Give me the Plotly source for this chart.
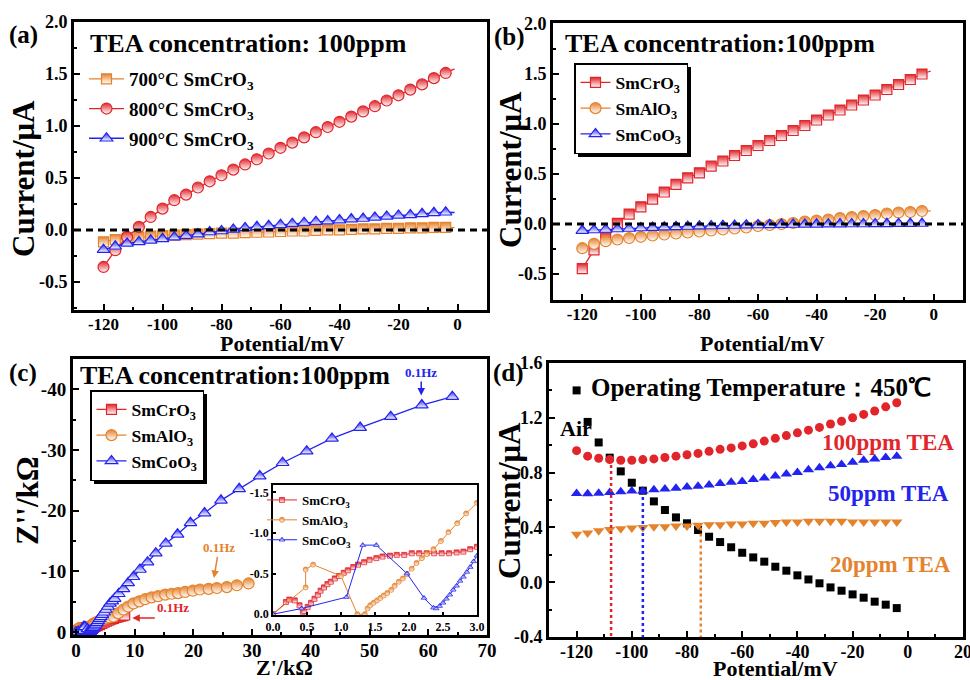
import plotly.graph_objects as go

FONT = "Liberation Serif"
ORANGE = "#E5822C"
RED = "#E1252B"
BLUE = "#2323F0"
W, H = 970, 680

# ---------------- data ----------------
potential = [-120, -116, -112, -108, -104, -100, -96, -92, -88, -84, -80, -76, -72, -68, -64,
             -60, -56, -52, -48, -44, -40, -36, -32, -28, -24, -20, -16, -12, -8, -4]
tail_potential = [-4, -1]

# (a) SmCrO3 calcined at different temperatures
a_700 = [-0.115, -0.092, -0.08, -0.07, -0.06, -0.055, -0.05, -0.045, -0.04, -0.035, -0.03, -0.03,
         -0.025, -0.022, -0.02, -0.015, -0.01, -0.01, -0.005, 0.0, 0.0, 0.005, 0.01, 0.01, 0.015,
         0.015, 0.02, 0.02, 0.025, 0.025]
a_800 = [-0.356, -0.195, -0.067, 0.029, 0.125, 0.205, 0.286, 0.34, 0.408, 0.468, 0.526, 0.58,
         0.63, 0.68, 0.735, 0.79, 0.84, 0.89, 0.94, 0.99, 1.04, 1.09, 1.14, 1.19, 1.245, 1.295,
         1.35, 1.40, 1.46, 1.51]
a_900 = [-0.19, -0.157, -0.13, -0.115, -0.10, -0.085, -0.07, -0.055, -0.04, -0.02, -0.01, 0.005,
         0.02, 0.03, 0.04, 0.05, 0.06, 0.07, 0.08, 0.085, 0.095, 0.105, 0.11, 0.12, 0.13, 0.14,
         0.145, 0.155, 0.165, 0.17]
a_700_tail = [0.025, 0.022]
a_800_tail = [1.51, 1.55]
a_900_tail = [0.17, 0.168]

# (b) different perovskites
b_cr = [-0.446, -0.258, -0.133, 0.007, 0.099, 0.172, 0.248, 0.32, 0.397, 0.462, 0.512, 0.578,
        0.63, 0.685, 0.735, 0.785, 0.835, 0.885, 0.935, 0.985, 1.04, 1.09, 1.14, 1.19, 1.24,
        1.29, 1.345, 1.395, 1.445, 1.50]
b_al = [-0.242, -0.198, -0.172, -0.155, -0.14, -0.128, -0.115, -0.105, -0.095, -0.085, -0.075,
        -0.065, -0.055, -0.045, -0.035, -0.02, -0.01, 0.0, 0.01, 0.025, 0.035, 0.045, 0.06,
        0.07, 0.08, 0.09, 0.105, 0.115, 0.12, 0.13]
b_co = [-0.066, -0.06, -0.055, -0.05, -0.045, -0.04, -0.036, -0.032, -0.028, -0.025, -0.022,
        -0.02, -0.017, -0.015, -0.012, -0.01, -0.008, -0.006, -0.005, -0.004, -0.003, -0.002,
        -0.001, 0.0, 0.0, 0.001, 0.002, 0.003, 0.004, 0.005]
b_cr_tail = [1.50, 1.53]
b_al_tail = [0.13, 0.13]
b_co_tail = [0.005, 0.005]

# (c) Nyquist plots (Z' in kOhm, Z'' in kOhm)
c_cr_x = [0, 0.19, 0.24, 0.32, 0.39, 0.44, 0.46, 0.51, 0.56, 0.61, 0.66, 0.70, 0.75, 0.80, 0.85,
          0.91, 0.97, 1.04, 1.10, 1.18, 1.25, 1.34, 1.42, 1.52, 1.61, 1.72, 1.82, 1.93, 2.04,
          2.15, 2.26, 2.37, 2.48, 2.59, 2.70, 2.80, 2.90, 3.0, 3.3, 3.6, 4.0, 4.4, 4.8, 5.2,
          5.6, 6.0, 6.4, 6.8, 7.2, 7.6, 8.0, 8.3]
c_cr_y = [0, -0.15, -0.18, -0.17, -0.11, -0.03, -0.04, -0.09, -0.14, -0.19, -0.24, -0.29, -0.33,
          -0.37, -0.40, -0.44, -0.47, -0.51, -0.54, -0.58, -0.61, -0.64, -0.67, -0.69, -0.71,
          -0.72, -0.73, -0.73, -0.75, -0.75, -0.75, -0.75, -0.75, -0.75, -0.76, -0.77, -0.80,
          -0.83, -0.95, -1.05, -1.2, -1.4, -1.6, -1.8, -1.95, -2.1, -2.25, -2.4, -2.5, -2.6,
          -2.7, -2.8]
c_al_x = [0, 0.48, 0.48, 0.59, 1.0, 1.24, 1.35, 1.39, 1.43, 1.48, 1.53, 1.58, 1.63, 1.68, 1.74,
          1.79, 1.85, 1.91, 1.97, 2.04, 2.11, 2.19, 2.26, 2.36, 2.47, 2.58, 2.71, 2.84, 3.0,
          3.3, 3.7, 4.1, 4.6, 5.1, 5.7, 6.4, 7.2, 8.1, 8.9, 9.8, 10.8, 11.8, 12.9, 14.0, 15.2,
          16.3, 17.4, 18.6, 19.9, 21.1, 22.6, 24.0, 25.7, 27.4, 29.4]
c_al_y = [0, -0.33, -0.55, -0.61, -0.47, 0, 0, -0.07, -0.11, -0.14, -0.17, -0.2, -0.23, -0.26,
          -0.3, -0.35, -0.4, -0.44, -0.49, -0.56, -0.63, -0.69, -0.74, -0.8, -0.9, -1.01, -1.12,
          -1.24, -1.37, -1.5, -1.7, -1.9, -2.1, -2.25, -2.4, -2.55, -3.1, -3.7, -4.2, -4.7,
          -5.05, -5.4, -5.7, -5.9, -6.15, -6.3, -6.4, -6.6, -6.8, -7.0, -7.1, -7.25, -7.4,
          -7.7, -8.0]
c_co_x = [0, 0.42, 1.08, 1.32, 1.52, 1.97, 2.22, 2.36, 2.4, 2.45, 2.5, 2.55, 2.6, 2.65, 2.7,
          2.75, 2.8, 2.85, 2.9, 2.95, 3.0, 3.2, 3.4, 3.6, 3.8, 4.0, 4.25, 4.5, 4.8, 5.1, 5.45,
          5.8, 6.2, 6.6, 7.3, 8.1, 8.9, 9.8, 10.9, 12.2, 13.6, 15.3, 17.3, 19.5, 21.9, 24.7,
          27.8, 31.3, 35.2, 39.3, 43.6, 48.4, 53.6, 58.9, 64.1]
c_co_y = [0, -0.07, -0.21, -0.85, -0.85, -0.5, -0.2, -0.08, -0.07, -0.1, -0.14, -0.19, -0.24,
          -0.3, -0.35, -0.41, -0.46, -0.52, -0.58, -0.65, -0.72, -0.95, -1.25, -1.55, -1.85,
          -2.15, -2.5, -2.85, -3.25, -3.7, -4.2, -4.7, -5.1, -5.5, -6.3, -7.1, -8.1, -9.1,
          -10.3, -11.5, -13.0, -14.6, -16.1, -18.0, -19.6, -21.7, -23.6, -25.7, -27.9, -29.8,
          -31.9, -33.7, -35.5, -37.4, -38.8]

# (d) SmCrO3 at 450 C
d_air = [1.40, 1.17, 1.02, 0.909, 0.809, 0.726, 0.668, 0.59, 0.527, 0.473, 0.43, 0.381, 0.332,
         0.293, 0.255, 0.215, 0.181, 0.15, 0.113, 0.084, 0.05, 0.02, -0.008, -0.038, -0.062,
         -0.089, -0.113, -0.142, -0.164, -0.189]
d_100 = [0.96, 0.92, 0.905, 0.895, 0.89, 0.89, 0.895, 0.90, 0.91, 0.92, 0.93, 0.94, 0.955, 0.97,
         0.98, 0.995, 1.01, 1.03, 1.05, 1.07, 1.09, 1.11, 1.13, 1.155, 1.175, 1.20, 1.225, 1.25,
         1.28, 1.31]
d_50 = [0.648, 0.645, 0.65, 0.655, 0.66, 0.665, 0.665, 0.675, 0.68, 0.685, 0.695, 0.70, 0.71,
        0.72, 0.73, 0.735, 0.75, 0.76, 0.775, 0.79, 0.80, 0.82, 0.835, 0.85, 0.86, 0.875, 0.89,
        0.90, 0.91, 0.92]
d_20 = [0.35, 0.36, 0.375, 0.385, 0.39, 0.395, 0.40, 0.405, 0.405, 0.41, 0.41, 0.415, 0.42, 0.42,
        0.425, 0.425, 0.43, 0.43, 0.435, 0.44, 0.44, 0.445, 0.445, 0.445, 0.445, 0.44, 0.44,
        0.44, 0.44, 0.44]
d_cross_x = [-107.5, -96, -75]
d_cross_top = [0.90, 0.665, 0.40]
d_axis_bottom = -0.4

# tick labels
ab_xticks = [-120, -100, -80, -60, -40, -20, 0]
ab_xtext = ["-120", "-100", "-80", "-60", "-40", "-20", "0"]
ab_yticks = [-0.5, 0.0, 0.5, 1.0, 1.5, 2.0]
ab_ytext = ["-0.5", "0.0", "0.5", "1.0", "1.5", "2.0"]
c_xticks = [0, 10, 20, 30, 40, 50, 60, 70]
c_xtext = ["0", "10", "20", "30", "40", "50", "60", "70"]
c_yticks = [0, -10, -20, -30, -40]
c_ytext = ["0", "-10", "-20", "-30", "-40"]
in_xticks = [0, 0.5, 1.0, 1.5, 2.0, 2.5, 3.0]
in_xtext = ["0.0", "0.5", "1.0", "1.5", "2.0", "2.5", "3.0"]
in_yticks = [0, -0.5, -1.0, -1.5]
in_ytext = ["0.0", "-0.5", "-1.0", "-1.5"]
d_xticks = [-120, -100, -80, -60, -40, -20, 0, 20]
d_xtext = ["-120", "-100", "-80", "-60", "-40", "-20", "0", "20"]
d_yticks = [-0.4, 0.0, 0.4, 0.8, 1.2, 1.6]
d_ytext = ["-0.4", "0.0", "0.4", "0.8", "1.2", "1.6"]


def px(x):
    return x / W


def py(y):
    return 1 - y / H


def half_marker(symbol, size, color, lw=1.2):
    return dict(symbol=symbol, size=size, color=color,
                gradient=dict(type="vertical", color="white"),
                line=dict(color=color, width=lw))


fig = go.Figure()

# ---------- panel (a) ----------
labels_a = ["700°C SmCrO<sub>3</sub>", "800°C SmCrO<sub>3</sub>", "900°C SmCrO<sub>3</sub>"]
for i, (vals, tail, col, sym, lab) in enumerate([
        (a_700, a_700_tail, ORANGE, "square", labels_a[0]),
        (a_800, a_800_tail, RED, "circle", labels_a[1]),
        (a_900, a_900_tail, BLUE, "triangle-up", labels_a[2])]):
    fig.add_trace(go.Scatter(x=tail_potential, y=tail, mode="lines", line=dict(color=col, width=1.3),
                             xaxis="x", yaxis="y", showlegend=False, hoverinfo="skip"))
    fig.add_trace(go.Scatter(x=potential, y=vals, mode="lines+markers", name=lab,
                             line=dict(color=col, width=1.3),
                             marker=half_marker(sym, 11 if sym != "square" else 10, col),
                             xaxis="x", yaxis="y", legend="legend", legendgroup="a%d" % i))

# ---------- panel (b) ----------
labels_b = ["SmCrO<sub>3</sub>", "SmAlO<sub>3</sub>", "SmCoO<sub>3</sub>"]
for i, (vals, tail, col, sym, lab) in enumerate([
        (b_cr, b_cr_tail, RED, "square", labels_b[0]),
        (b_al, b_al_tail, ORANGE, "circle", labels_b[1]),
        (b_co, b_co_tail, BLUE, "triangle-up", labels_b[2])]):
    fig.add_trace(go.Scatter(x=tail_potential, y=tail, mode="lines", line=dict(color=col, width=1.3),
                             xaxis="x2", yaxis="y2", showlegend=False, hoverinfo="skip"))
    fig.add_trace(go.Scatter(x=potential, y=vals, mode="lines+markers", name=lab,
                             line=dict(color=col, width=1.3),
                             marker=half_marker(sym, 11 if sym != "square" else 10, col),
                             xaxis="x2", yaxis="y2", legend="legend2", legendgroup="b%d" % i))

# ---------- panel (c) ----------
for i, (xs, ys, col, sym, lab) in enumerate([
        (c_cr_x, c_cr_y, RED, "square", labels_b[0]),
        (c_al_x, c_al_y, ORANGE, "circle", labels_b[1]),
        (c_co_x, c_co_y, BLUE, "triangle-up", labels_b[2])]):
    fig.add_trace(go.Scatter(x=xs, y=ys, mode="lines+markers", name=lab,
                             line=dict(color=col, width=1.3),
                             marker=half_marker(sym, 11 if sym != "square" else 10, col),
                             xaxis="x3", yaxis="y3", legend="legend3", legendgroup="c%d" % i))
# inset
for i, (xs, ys, col, sym, lab) in enumerate([
        (c_cr_x, c_cr_y, RED, "square", labels_b[0]),
        (c_al_x, c_al_y, ORANGE, "circle", labels_b[1]),
        (c_co_x, c_co_y, BLUE, "triangle-up", labels_b[2])]):
    fig.add_trace(go.Scatter(x=xs, y=ys, mode="lines+markers", name=lab,
                             line=dict(color=col, width=1),
                             marker=half_marker(sym, 5, col, lw=0.8),
                             xaxis="x4", yaxis="y4", legend="legend4", legendgroup="i%d" % i))

# ---------- panel (d) ----------
for vals, col, sym, size in [(d_air, "black", "square", 8), (d_100, RED, "circle", 9),
                             (d_50, BLUE, "triangle-up", 10), (d_20, ORANGE, "triangle-down", 10)]:
    fig.add_trace(go.Scatter(x=potential, y=vals, mode="markers",
                             marker=dict(symbol=sym, size=size, color=col),
                             xaxis="x5", yaxis="y5", showlegend=False))
for cx, ctop, col in zip(d_cross_x, d_cross_top, [RED, BLUE, ORANGE]):
    fig.add_trace(go.Scatter(x=[cx, cx], y=[ctop, d_axis_bottom], mode="lines",
                             line=dict(color=col, width=2.5, dash="dot"),
                             xaxis="x5", yaxis="y5", showlegend=False, hoverinfo="skip"))


# ---------- axes ----------
def axis(domain, rng, tv, tt, minor_dtick, anchor, size=17, ticklen=6, lw=3, standoff=0):
    return dict(domain=domain, range=rng, anchor=anchor, tickmode="array", tickvals=tv, ticktext=tt,
                ticks="inside", ticklen=ticklen, tickwidth=2, tickcolor="black",
                showline=True, linewidth=lw, linecolor="black", mirror=True,
                showgrid=False, zeroline=False, automargin=False,
                ticklabeloverflow="allow", ticklabelstandoff=standoff,
                tickfont=dict(family=FONT, size=size, color="black", weight="bold"),
                minor=dict(ticks="inside", ticklen=max(2, ticklen // 2), tickwidth=2,
                           tickcolor="black", tickmode="linear", tick0=0, dtick=minor_dtick))


layout_axes = dict(
    xaxis=axis([px(74), px(487)], [-130, 10], ab_xticks, ab_xtext, 10, "y", standoff=-3),
    yaxis=axis([py(310), py(22)], [-0.77, 2.0], ab_yticks, ab_ytext, 0.25, "x", size=18),
    xaxis2=axis([px(553), px(963)], [-130, 10], ab_xticks, ab_xtext, 10, "y2", standoff=-3),
    yaxis2=axis([py(300), py(23)], [-0.76, 2.01], ab_yticks, ab_ytext, 0.25, "x2", size=18),
    xaxis3=axis([px(73), px(487)], [-0.5, 70], c_xticks, c_xtext, 5, "y3", size=19, standoff=-4),
    yaxis3=axis([py(635), py(359)], [0.5, -45], c_yticks, c_ytext, 5, "x3", size=19),
    xaxis4=axis([px(273), px(477)], [0, 3], in_xticks, in_xtext, 0.25, "y4", size=12, ticklen=3, lw=1.5),
    yaxis4=axis([py(615), py(485)], [0.01, -1.59], in_yticks, in_ytext, 0.25, "x4", size=12, ticklen=3, lw=1.5),
    xaxis5=axis([px(549), px(963)], [-130, 20], d_xticks, d_xtext, 10, "y5", size=18, standoff=-4),
    yaxis5=axis([py(637), py(363)], [-0.4, 1.6], d_yticks, d_ytext, 0.2, "x5", size=18),
)
layout_axes["xaxis4"]["minor"]["ticks"] = ""
layout_axes["yaxis4"]["minor"]["ticks"] = ""


def leg(x, y, size, border, gap, itemwidth=30):
    return dict(x=px(x), y=py(y), xanchor="left", yanchor="top", xref="paper", yref="paper",
                bgcolor="white" if border else "rgba(0,0,0,0)",
                bordercolor="black", borderwidth=1.5 if border else 0,
                font=dict(family=FONT, size=size, color="black", weight="bold"),
                traceorder="grouped", tracegroupgap=gap, itemwidth=itemwidth)


# ---------- annotations ----------
ann = []


def text(x, y, s, size, color="black", xanchor="center", angle=0):
    ann.append(dict(x=px(x), y=py(y), xref="paper", yref="paper", text=s, showarrow=False,
                    xanchor=xanchor, yanchor="middle", textangle=angle,
                    font=dict(family=FONT, size=size, color=color, weight="bold")))


text(23, 35, "(a)", 25)
text(509, 37, "(b)", 25)
text(23, 373, "(c)", 25)
text(508, 373, "(d)", 25)
text(88, 43, "TEA concentration: 100ppm", 26, xanchor="left")
text(563, 43, "TEA concentration:100ppm", 26, xanchor="left")
text(78, 375, "TEA concentration:100ppm", 26, xanchor="left")
text(589, 387, "Operating Temperature：450℃", 25, xanchor="left")
text(282, 343, "Potential/mV", 22)
text(762, 343, "Potential/mV", 22)
text(284, 667, "Z'/kΩ", 22)
text(775, 668, "Potential/mV", 22)
text(24, 179, "Current/μA", 31, angle=-90)
text(510, 170, "Current/μA", 31, angle=-90)
text(27, 501, "Z''/kΩ", 31, angle=-90)
text(509, 501, "Current/μA", 31, angle=-90)
text(888, 442, "100ppm TEA", 23, RED)
text(888, 493, "50ppm TEA", 23, BLUE)
text(890, 564, "20ppm TEA", 23, ORANGE)
text(576, 428, "Air", 22)

# frequency markers
for x, y, ax, ay, col in [(58.8, -39.0, 0, -23, BLUE), (23.5, -8.9, 5, -30, ORANGE)]:
    ann.append(dict(x=x, y=y, xref="x3", yref="y3", text="0.1Hz", showarrow=True,
                    ax=ax, ay=ay, arrowhead=2, arrowsize=1, arrowwidth=1.5, arrowcolor=col,
                    font=dict(family=FONT, size=13, color=col, weight="bold")))
ann.append(dict(x=9.6, y=-2.3, xref="x3", yref="y3", text="", showarrow=True, ax=24, ay=0,
                arrowhead=2, arrowsize=1, arrowwidth=1.5, arrowcolor=RED))
text(173, 607, "0.1Hz", 13, RED)

# ---------- shapes ----------
shapes = []
for xr, yr in [("x domain", "y"), ("x2 domain", "y2")]:
    shapes.append(dict(type="line", xref=xr, yref=yr, x0=0, x1=1, y0=0, y1=0,
                       line=dict(color="black", width=3, dash="7px,5px")))
# legend shadows (offset copies of the legend boxes)
for (x0, y0, x1, y1) in [(574, 63, 687, 153), (90, 390, 203, 480)]:
    shapes.append(dict(type="rect", xref="paper", yref="paper", x0=px(x0 + 4), x1=px(x1 + 4),
                       y0=py(y1 + 4), y1=py(y0 + 4), fillcolor="black", line=dict(width=0),
                       layer="above"))

fig.update_layout(
    width=W, height=H, margin=dict(l=0, r=0, t=0, b=0, autoexpand=False),
    paper_bgcolor="white", plot_bgcolor="white",
    font=dict(family=FONT, size=16, color="black", weight="bold"),
    legend=leg(84, 60, 19, False, 2, itemwidth=35),
    legend2=leg(574, 63, 17.5, True, 0),
    legend3=leg(90, 390, 17.5, True, 0),
    legend4=leg(262, 485, 13, False, 0),
    annotations=ann, shapes=shapes, **layout_axes,
)

fig.write_html("out.html", config={"displayModeBar": False},
               post_script="document.body.style.margin='0px';")
